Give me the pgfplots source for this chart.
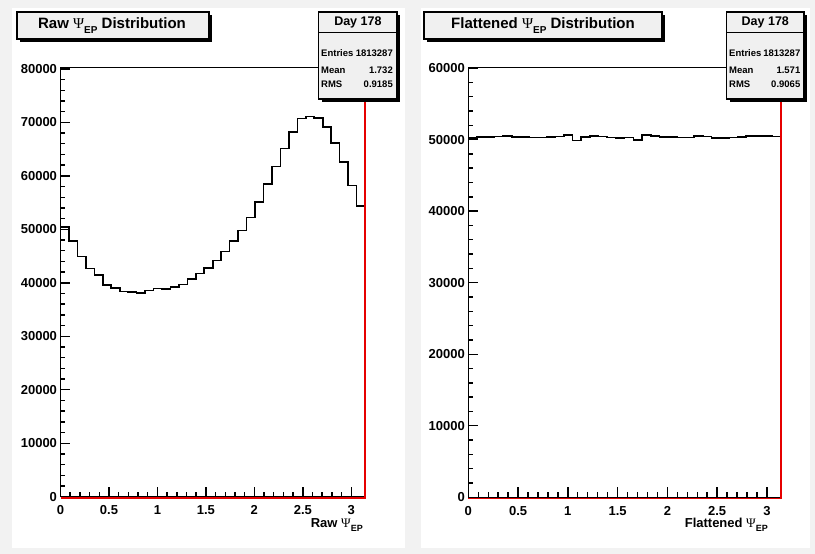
\documentclass[border=0pt]{standalone}
\usepackage{pgfplots}
\pgfplotsset{compat=1.18}
\usepackage{fontspec}
\setmainfont{Liberation Sans}
\newfontfamily\psifont{Liberation Serif}

\definecolor{canvas}{RGB}{242,242,242}
\definecolor{boxfill}{RGB}{240,240,240}
\definecolor{framered}{RGB}{230,0,0}

% Psi with bold EP subscript: #1 = size of Psi, #2 = size of subscript
\newcommand{\PsiEP}[2]{{\psifont\mdseries\fontsize{#1}{#1}\selectfont Ψ}\raisebox{-0.32em}{\fontsize{#2}{#2}\selectfont\bfseries EP}}

\pgfplotsset{
  rootaxis/.style={
    scale only axis,
    xmin=0, xmax=3.14159, ymin=0,
    axis line style={draw=none},
    tick align=inside, xtick pos=left, ytick pos=left,
    major tick length=10pt, minor tick length=5pt,
    tick style={black, line width=1.4pt},
    xtick={0,0.5,1,1.5,2,2.5,3},
    xticklabels={0,0.5,1,1.5,2,2.5,3},
    minor x tick num=4, minor y tick num=4,
    scaled y ticks=false,
    ticklabel style={font=\fontsize{13}{13}\selectfont\bfseries},
    xticklabel style={yshift=-5.5pt},
    clip=false,
  },
}

\begin{document}
\begin{tikzpicture}
\begin{scope}[x=1pt,y=-1pt]
  \fill[canvas] (0,0) rectangle (815,554);
  \fill[white] (12,8) rectangle (405,548);
  \fill[white] (421,8) rectangle (810,548);
\end{scope}

% ---- left pad: raw distribution ----
\begin{axis}[rootaxis, at={(60.5pt,-496.7pt)}, anchor=south west,
  width=304.5pt, height=429.4pt, ymax=80300,
  ytick={0,10000,20000,30000,40000,50000,60000,70000,80000},
  yticklabels={0,10000,20000,30000,40000,50000,60000,70000,80000}]
\addplot[const plot, black, line width=1.6pt] coordinates {
(0.00000,50390) (0.08727,47780) (0.17453,44920) (0.26180,42680)
(0.34907,41490) (0.43633,39630) (0.52360,39000) (0.61087,38380)
(0.69813,38260) (0.78540,38130) (0.87266,38570) (0.95993,38940)
(1.04720,38820) (1.13446,39250) (1.22173,39690) (1.30900,40680)
(1.39626,41740) (1.48353,42740) (1.57080,44170) (1.65806,45850)
(1.74533,47780) (1.83260,49770) (1.91986,52200) (2.00713,55120)
(2.09440,58480) (2.18166,61780) (2.26893,65140) (2.35619,68250)
(2.44346,70740) (2.53073,71110) (2.61799,70800) (2.70526,69120)
(2.79253,66200) (2.87979,62590) (2.96706,58230) (3.05433,54310)
(3.14159,54310)
};
\end{axis}

% ---- right pad: flattened distribution ----
\begin{axis}[rootaxis, at={(468.3pt,-497.3pt)}, anchor=south west,
  width=312.7pt, height=430pt, ymax=60100,
  ytick={0,10000,20000,30000,40000,50000,60000},
  yticklabels={0,10000,20000,30000,40000,50000,60000}]
\addplot[const plot, black, line width=1.6pt] coordinates {
(0.00000,50230) (0.08727,50330) (0.17453,50330) (0.26180,50420)
(0.34907,50470) (0.43633,50330) (0.52360,50370) (0.61087,50280)
(0.69813,50280) (0.78540,50330) (0.87266,50420) (0.95993,50600)
(1.04720,49860) (1.13446,50330) (1.22173,50510) (1.30900,50420)
(1.39626,50280) (1.48353,50230) (1.57080,50280) (1.65806,49950)
(1.74533,50600) (1.83260,50470) (1.91986,50330) (2.00713,50330)
(2.09440,50280) (2.18166,50280) (2.26893,50510) (2.35619,50420)
(2.44346,50190) (2.53073,50190) (2.61799,50280) (2.70526,50330)
(2.79253,50470) (2.87979,50470) (2.96706,50470) (3.05433,50420)
(3.14159,50420)
};
\end{axis}

\begin{scope}[x=1pt,y=-1pt]
  % frames: left and top black, bottom and right red
  \draw[black, line width=1.3pt] (60.5,496.7) -- (60.5,67.3) -- (365,67.3);
  \draw[black, line width=1.1pt] (60.5,496.7) -- (365,496.7);
  \draw[framered, line width=1.2pt] (60.5,497.9) -- (366,497.9);
  \draw[framered, line width=2.2pt] (365,498.5) -- (365,67.3);

  \draw[black, line width=1.3pt] (468.3,497.3) -- (468.3,67.3) -- (781,67.3);
  \draw[black, line width=1.1pt] (468.3,497.3) -- (781,497.3);
  \draw[framered, line width=1.2pt] (468.3,498.5) -- (782,498.5);
  \draw[framered, line width=2.2pt] (781,499) -- (781,67.3);

  % title boxes
  \fill[black] (20,15) rectangle (212,42);
  \filldraw[fill=boxfill, draw=black, line width=1.2pt] (17,12) rectangle (209,39);
  \node[font=\fontsize{15}{15}\selectfont\bfseries] at (112,25.5) {Raw \PsiEP{15}{10} Distribution};
  \fill[black] (427,15) rectangle (665,42);
  \filldraw[fill=boxfill, draw=black, line width=1.2pt] (424,12) rectangle (662,39);
  \node[font=\fontsize{15}{15}\selectfont\bfseries] at (543,25.5) {Flattened \PsiEP{15}{10} Distribution};

  % stats boxes
  \fill[black] (321.5,14.5) rectangle (399.5,101.5);
  \filldraw[fill=boxfill, draw=black, line width=1.2pt] (318.7,12) rectangle (397,99);
  \draw[black, line width=1pt] (318.7,32.7) -- (397,32.7);
  \node[font=\fontsize{12.5}{12.5}\selectfont\bfseries] at (357.9,22.5) {Day 178};
  \begin{scope}[every node/.style={font=\fontsize{9.5}{9.5}\selectfont\bfseries, inner sep=0pt}]
    \node[anchor=west] at (321,53) {Entries};
    \node[anchor=east] at (393,53) {1813287};
    \node[anchor=west] at (321,70) {Mean};
    \node[anchor=east] at (393,70) {1.732};
    \node[anchor=west] at (321,84.5) {RMS};
    \node[anchor=east] at (393,84.5) {0.9185};
  \end{scope}

  \fill[black] (729.5,14.5) rectangle (806.5,101.5);
  \filldraw[fill=boxfill, draw=black, line width=1.2pt] (726.7,12) rectangle (804,99);
  \draw[black, line width=1pt] (726.7,32.7) -- (804,32.7);
  \node[font=\fontsize{12.5}{12.5}\selectfont\bfseries] at (765.3,22.5) {Day 178};
  \begin{scope}[every node/.style={font=\fontsize{9.5}{9.5}\selectfont\bfseries, inner sep=0pt}]
    \node[anchor=west] at (729,53) {Entries};
    \node[anchor=east] at (800.5,53) {1813287};
    \node[anchor=west] at (729,70) {Mean};
    \node[anchor=east] at (800.5,70) {1.571};
    \node[anchor=west] at (729,84.5) {RMS};
    \node[anchor=east] at (800.5,84.5) {0.9065};
  \end{scope}

  % axis titles
  \node[anchor=base east, inner sep=0pt, font=\fontsize{13}{13}\selectfont\bfseries] at (363,527) {Raw \PsiEP{13}{9}};
  \node[anchor=base east, inner sep=0pt, font=\fontsize{13}{13}\selectfont\bfseries] at (768,527) {Flattened \PsiEP{13}{9}};
\end{scope}
\end{tikzpicture}
\end{document}
